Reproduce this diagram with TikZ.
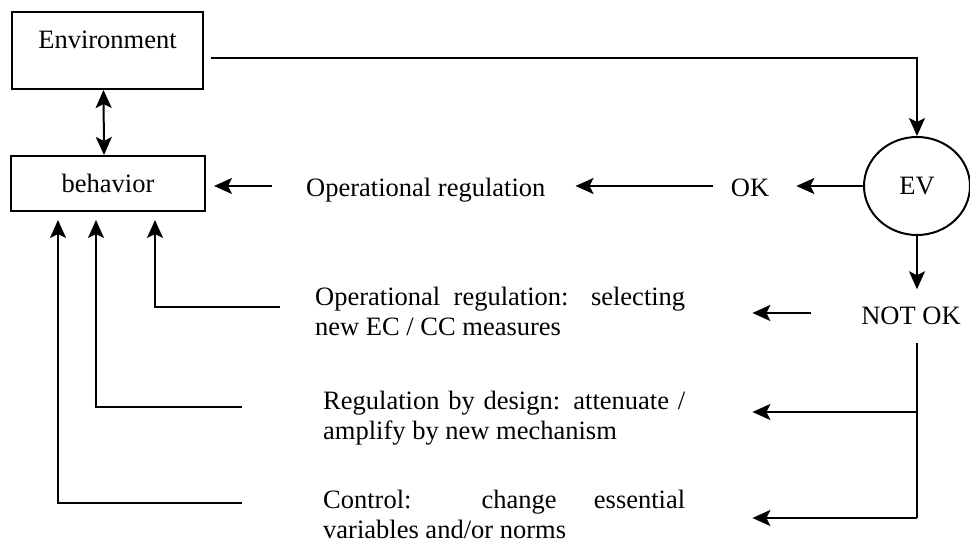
\documentclass[tikz,border=0pt]{standalone}
\usepackage{fontspec}
\setmainfont{Liberation Serif}
\usetikzlibrary{arrows.meta,shapes.geometric,calc}
\tikzset{
  base/.style={line width=2pt},
  tipa/.tip={Stealth[length=18pt,width=16pt,inset=4pt]},
  arr/.style={base,-tipa},
  darr/.style={base,tipa-tipa},
  boxnode/.style={draw,line width=2pt,inner xsep=0pt,inner ysep=0pt},
  lbl/.style={inner sep=0pt},
  para/.style={inner sep=0pt,align=justify,anchor=base west}
}
\begin{document}
\begin{tikzpicture}[x=1pt,y=-1pt,font=\fontsize{26.5}{30}\selectfont]
\useasboundingbox (0,0) rectangle (970,548);
% boxes
\node[boxnode,anchor=north,minimum width=191pt,text height=37pt,text depth=40pt] (env) at (107.5,11) {Environment};
\node[boxnode,anchor=north,minimum width=194pt,text height=37pt,text depth=18pt] (beh) at (108,155) {behavior};
\node[draw,ellipse,line width=2pt,minimum width=106pt,minimum height=98pt,inner sep=0pt] (ev) at (917,186) {EV};
% texts
\node[lbl,anchor=base] (ok) at (750,197) {OK};
\node[lbl,anchor=base west] (opreg) at (306,197) {Operational regulation};
\node[lbl,anchor=base] (notok) at (911,325) {NOT OK};
\node[para,text width=370pt] (t1) at (315,306) {Operational regulation: selecting\linebreak new EC / CC measures};
\node[para,text width=362pt] (t2) at (323,409) {Regulation by design: attenuate /\linebreak amplify by new mechanism};
\node[para,text width=362pt] (t3) at (323,508) {Control: change essential\linebreak variables and/or norms};
% branch points
\coordinate (b2) at (917,412);
\coordinate (b3) at (917,518);
% connectors
\draw[darr] ([xshift=-4pt]env.south) -- ([xshift=-4pt]beh.north);
\draw[arr,shorten <=7pt] ([yshift=-7.5pt]env.east) -| (ev.north);
\draw[arr,shorten >=27pt] (ev.west) -- (ev.west -| ok.east);
\draw[arr,shorten <=18pt,shorten >=30pt] (ok.west |- ev.west) -- (ev.west -| opreg.east);
\draw[arr,shorten <=34pt,shorten >=8pt] (opreg.west |- ev.west) -- (ev.west -| beh.east);
\draw[arr,shorten >=18pt] (ev.south) -- (ev.south |- notok.north);
\draw[arr,shorten <=50pt,shorten >=67pt] ([yshift=12pt]notok.base west) -- ([yshift=12pt]notok.base west -| t1.east);
\draw[base,shorten <=18pt] (notok.south -| ev.south) -- (b3);
\draw[arr,shorten >=67pt] (b2) -- (b2 -| t2.east);
\draw[arr,shorten >=67pt] (b3) -- (b3 -| t3.east);
\draw[arr,shorten <=35pt,shorten >=8pt] ([yshift=-1pt]t1.base west) -| ([xshift=47pt]beh.south);
\draw[arr,shorten <=81pt,shorten >=8pt] ([yshift=2pt]t2.base west) -| ([xshift=-12pt]beh.south);
\draw[arr,shorten <=81pt,shorten >=8pt] ([yshift=5pt]t3.base west) -| ([xshift=-50pt]beh.south);
\end{tikzpicture}
\end{document}
